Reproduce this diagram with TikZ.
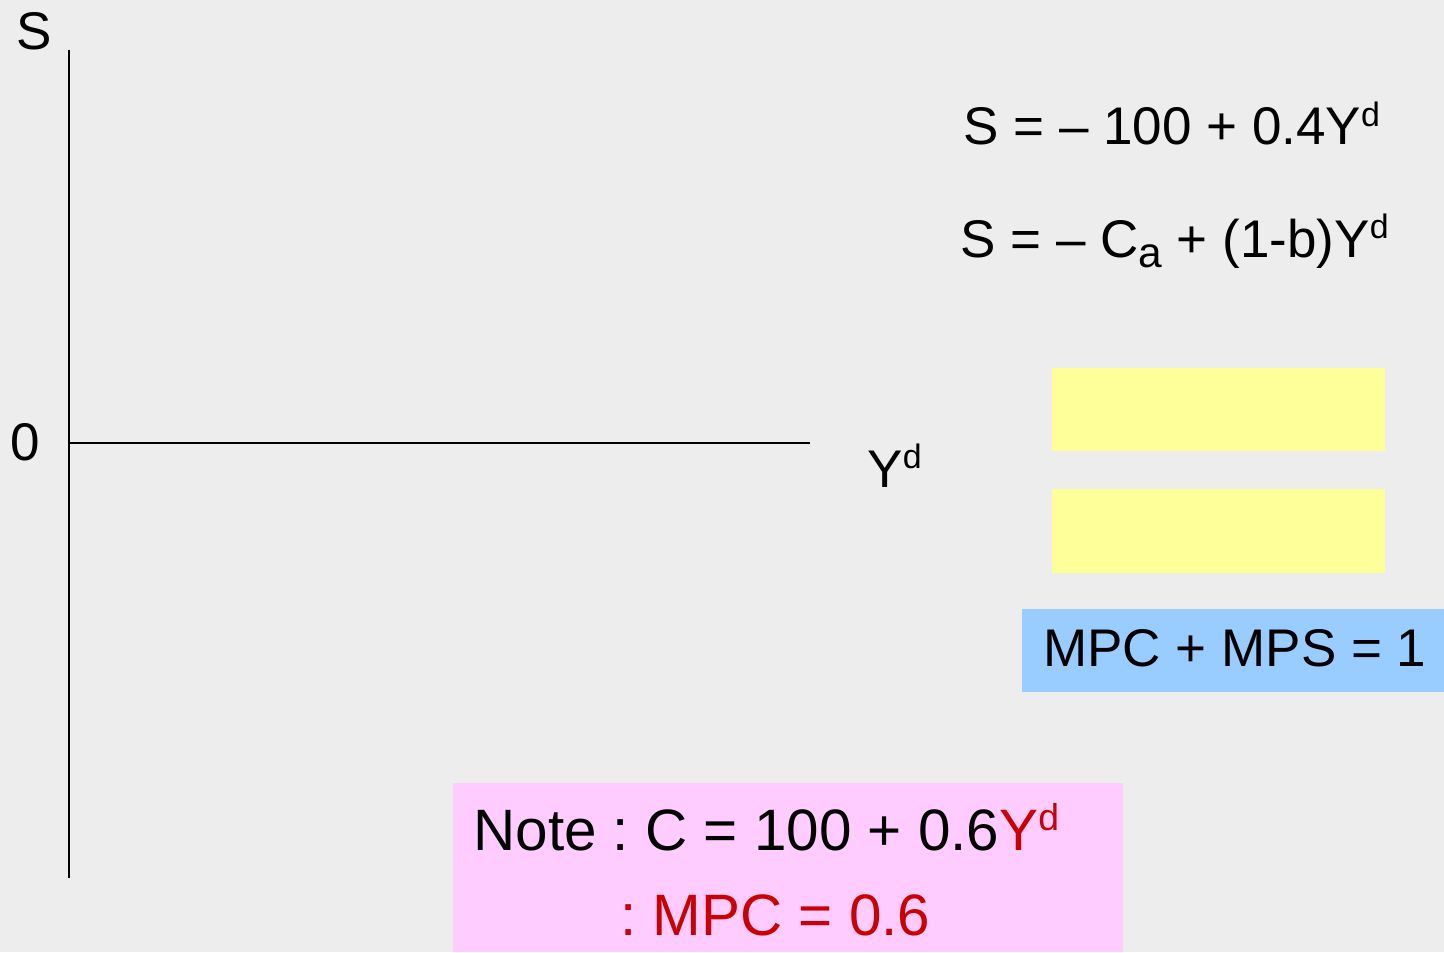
\documentclass[tikz,border=0pt]{standalone}
\usepackage{fontspec}
\setmainfont{Liberation Sans}
\usepackage{tikz}
\definecolor{paper}{HTML}{EDEDED}
\definecolor{pale}{HTML}{FFFF99}
\definecolor{sky}{HTML}{99CCFF}
\definecolor{pinkish}{HTML}{FFCCFF}
\definecolor{darkred}{HTML}{CC0000}
\newcommand{\supd}{\raisebox{0.34em}{\scalebox{0.64}{d}}}
\newcommand{\suba}{\raisebox{-0.2em}{\scalebox{0.8}{a}}}
\tikzset{
  txt/.style={anchor=base west, inner sep=0pt, font=\fontsize{26.5}{30}\selectfont},
  bigtxt/.style={anchor=base west, inner sep=0pt, font=\fontsize{29.2}{32}\selectfont},
  panel/.style={anchor=north west, inner sep=0pt, draw=none}
}

\begin{document}
\frenchspacing
\begin{tikzpicture}[x=0.5pt, y=-0.5pt]
\fill[paper] (0,0) rectangle (1444,952);
\useasboundingbox (0,0) rectangle (1444,952);
% axes
\coordinate (top) at (69,50);
\coordinate (bottom) at (69,878);
\coordinate (origin) at (69,443);
\coordinate (right) at (810,443);
\draw[line width=1pt] (top) -- (bottom);
\draw[line width=1pt] (origin) -- (right);
\node[txt] (slabel) at (16,50) {S};
\node[txt] (zero) at (10,460) {0};
\node[txt] (ylabel) at (867,487) {Y\supd};
% saving function
\node[txt] (eqone) at (963,145) {S = \textendash{} 100 + 0.4Y\supd};
\node[txt] (eqtwo) at (960,257) {S = \textendash{} C\suba{} + (1-b)Y\supd};
% boxes
\node[panel, fill=pale, minimum width=333*0.5pt, minimum height=83*0.5pt] (boxone) at (1052,368) {};
\node[panel, fill=pale, minimum width=333*0.5pt, minimum height=84*0.5pt] (boxtwo) at (1052,489) {};
\node[panel, fill=sky, minimum width=422*0.5pt, minimum height=83*0.5pt] (mpsbox) at (1022,609) {};
\node[txt] (mps) at (1043,666) {MPC + MPS = 1};
\node[panel, fill=pinkish, minimum width=670*0.5pt, minimum height=169*0.5pt] (notebox) at (453,783) {};
\node[bigtxt] (noteone) at (473,850) {Note : C = 100 + 0.6\textcolor{darkred}{Y\supd}};
\node[bigtxt, text=darkred] (notetwo) at (620,935) {: MPC = 0.6};
\end{tikzpicture}
\end{document}
